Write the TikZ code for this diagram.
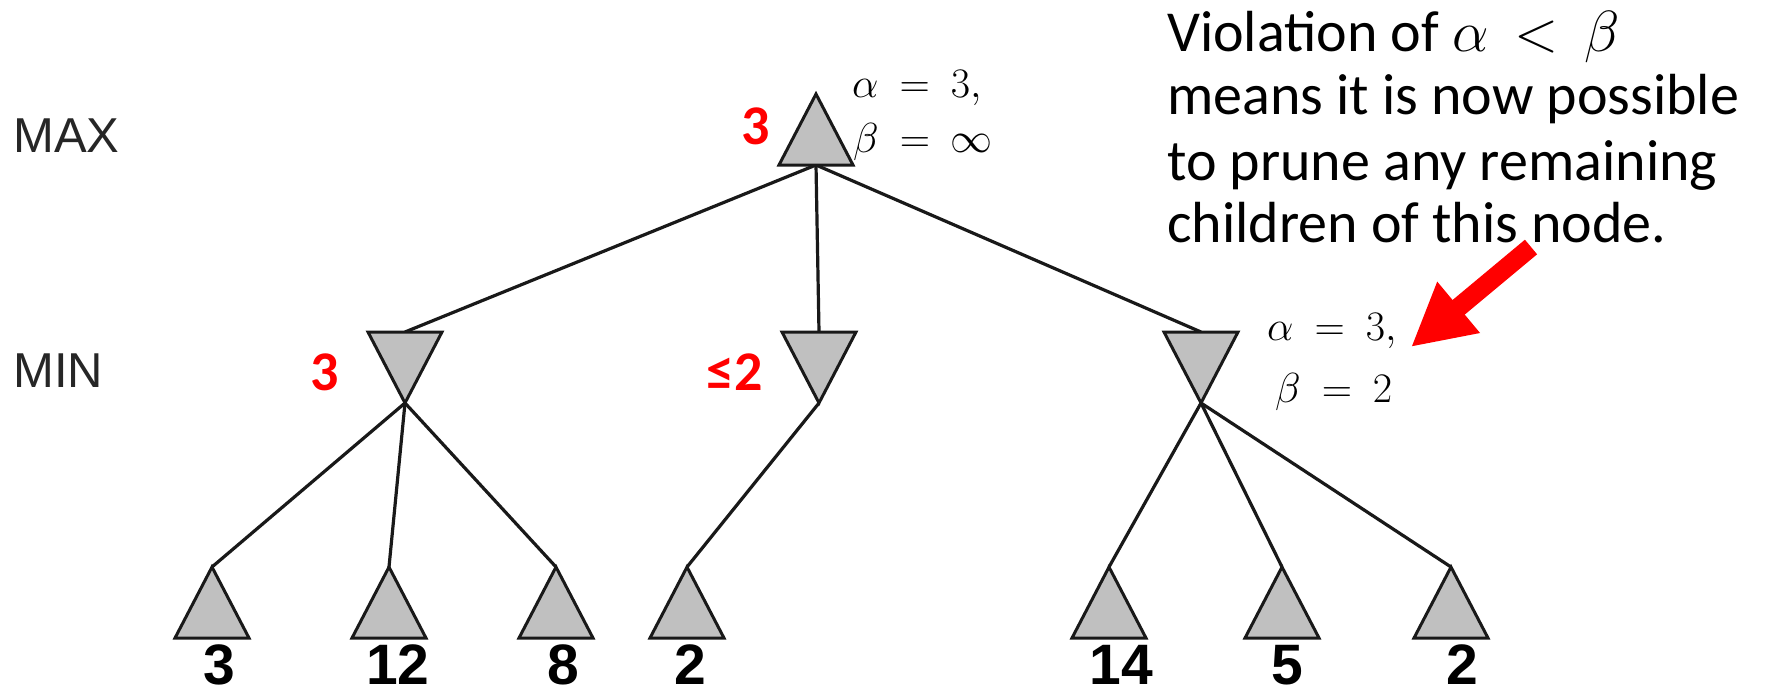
\RequirePackage{fix-cm}
\documentclass[tikz,border=0pt]{standalone}
\usepackage{fontspec}
\newfontfamily\calib{Carlito}
\newfontfamily\arialf{Liberation Sans}
\usetikzlibrary{arrows.meta,backgrounds}
\definecolor{trifill}{RGB}{192,192,192}
\definecolor{trired}{RGB}{255,0,0}
\newcommand\mthfont{\fontsize{42}{50}\selectfont\thickmuskip=9mu\relax}
\newcommand\txtfont{\calib\fontsize{58}{64}\selectfont\thickmuskip=8mu\relax}
\tikzset{
  tri/.style={draw=black!90, line width=3pt, fill=trifill, line join=miter},
  edge/.style={draw=black!90, line width=3.2pt},
  levellabel/.style={anchor=base west, inner sep=0pt, text=black!85, font=\arialf\fontsize{49}{56}\selectfont},
  redval/.style={anchor=base, inner sep=0pt, text=trired, font=\calib\bfseries\fontsize{56}{64}\selectfont},
  leafval/.style={anchor=base, inner sep=0pt, text depth=0pt, text=black, font=\arialf\bfseries\fontsize{57}{64}\selectfont},
  mathnote/.style={anchor=base west, inner sep=0pt, text=black, font=\mthfont},
  bigtext/.style={anchor=base west, inner sep=0pt, text=black, font=\txtfont},
  maxtri/.pic={\path[tri] (0,-35.5) -- (37,35.5) -- (-37,35.5) -- cycle;
    \coordinate (-top) at (0,-35.5); \coordinate (-bot) at (0,35.5);},
  mintri/.pic={\path[tri] (0,35.5) -- (37,-35.5) -- (-37,-35.5) -- cycle;
    \coordinate (-top) at (0,-35.5); \coordinate (-bot) at (0,35.5);}
}
\begin{document}
\begin{tikzpicture}[x=1pt,y=-1pt]
\useasboundingbox (0,0) rectangle (1769,690);
% level labels
\node[levellabel] (maxlab) at (13,153) {MAX};
\node[levellabel] (minlab) at (13,387) {MIN};
% triangles
\pic (r) at (816,129.5) {maxtri};
\pic (m1) at (405,367.5) {mintri};
\pic (m2) at (819,367.5) {mintri};
\pic (m3) at (1201,367.5) {mintri};
\pic (l1) at (212,602.5) {maxtri};
\pic (l2) at (389,602.5) {maxtri};
\pic (l3) at (556,602.5) {maxtri};
\pic (l4) at (687,602.5) {maxtri};
\pic (l5) at (1109,602.5) {maxtri};
\pic (l6) at (1282,602.5) {maxtri};
\pic (l7) at (1451,602.5) {maxtri};
% edges
\begin{scope}[on background layer]
\draw[edge] (r-bot) -- (m1-top);
\draw[edge] (r-bot) -- (m2-top);
\draw[edge] (r-bot) -- (m3-top);
\draw[edge] (m1-bot) -- (l1-top);
\draw[edge] (m1-bot) -- (l2-top);
\draw[edge] (m1-bot) -- (l3-top);
\draw[edge] (m2-bot) -- (l4-top);
\draw[edge] (m3-bot) -- (l5-top);
\draw[edge] (m3-bot) -- (l6-top);
\draw[edge] (m3-bot) -- (l7-top);
\end{scope}
% red values
\node[redval] (rv) at (756,145) {3};
\node[redval] (m1v) at (325,390) {3};
\node[redval] (m2v) at (735,390) {≤2};
% leaf values
\node[leafval] (v1) at (219,684) {3};
\node[leafval] (v2) at (398,684) {12};
\node[leafval] (v3) at (563,684) {8};
\node[leafval] (v4) at (690,684) {2};
\node[leafval] (v5) at (1121,684) {14};
\node[leafval] (v6) at (1287,684) {5};
\node[leafval] (v7) at (1462,684) {2};
% alpha beta notes
\node[mathnote] (ra) at (852,98) {$\alpha = 3,$};
\node[mathnote] (rb) at (853,153) {$\beta = \infty$};
\node[mathnote] (ma) at (1267,340) {$\alpha = 3,$};
\node[mathnote] (mb) at (1275,402) {$\beta = 2$};
% explanation
\node[bigtext] (t1) at (1167,52) {Violation of $\alpha < \beta$};
\node[bigtext] (t2) at (1167,115) {means it is now possible};
\node[bigtext] (t3) at (1167,180) {to prune any remaining};
\node[bigtext] (t4) at (1167,242) {children of this node.};
% arrow
\coordinate (atail) at (1531,247);
\coordinate (atip) at (1411,347);
\draw[trired, line width=19pt, -{Triangle[length=62pt,width=62pt]}] (atail) -- (atip);
\end{tikzpicture}
\end{document}
